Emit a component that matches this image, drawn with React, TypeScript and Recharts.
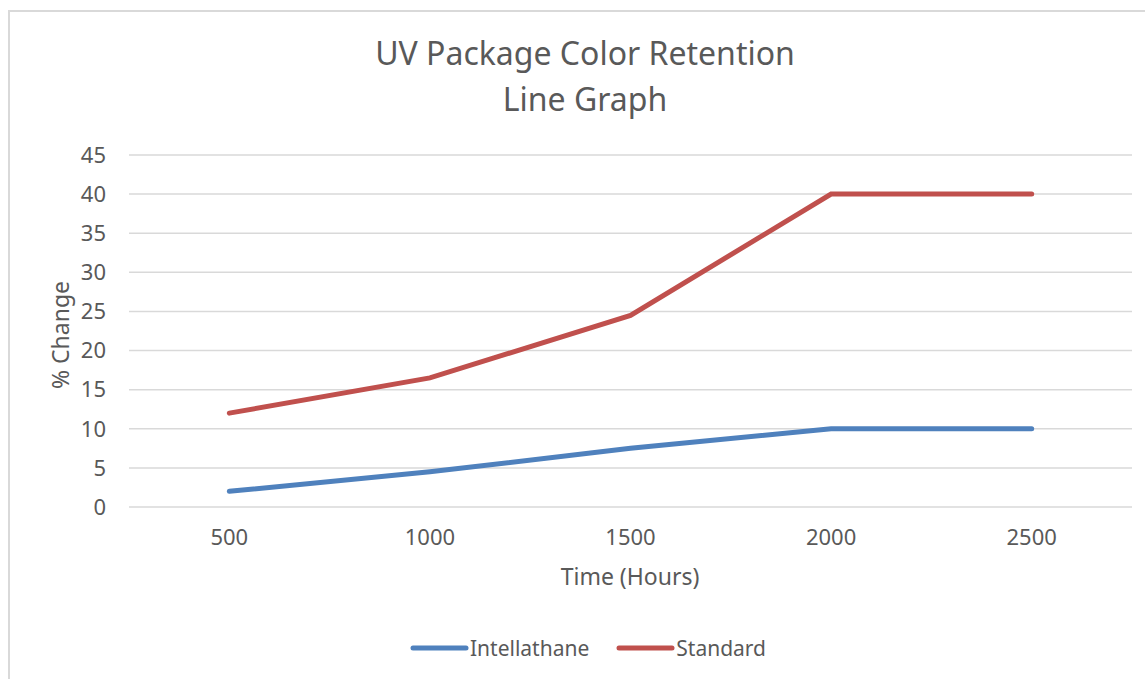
import React from "react";
import { LineChart, Line, XAxis, YAxis, CartesianGrid, Legend, Label } from "recharts";

const hours = ["500", "1000", "1500", "2000", "2500"];
const intellathane = [2, 4.5, 7.5, 10, 10];
const standard = [12, 16.5, 24.5, 40, 40];
const yTicks = [0, 5, 10, 15, 20, 25, 30, 35, 40, 45];

const seriesColors = { intellathane: "#4f81bd", standard: "#c0504d" };
const textColor = "#595959";
const font = "'Noto Sans', sans-serif";

const data = hours.map((h, i) => ({
  hour: h,
  Intellathane: intellathane[i],
  Standard: standard[i],
}));

const LegendContent = () => (
  <div style={{ display: "flex", justifyContent: "center", gap: 27, fontFamily: font, fontSize: 21, color: textColor, paddingLeft: 44 }}>
    {[
      { name: "Intellathane", color: seriesColors.intellathane },
      { name: "Standard", color: seriesColors.standard },
    ].map((s) => (
      <div key={s.name} style={{ display: "flex", alignItems: "center" }}>
        <svg width={60} height={10}>
          <line x1={3} y1={5} x2={56} y2={5} stroke={s.color} strokeWidth={5} strokeLinecap="round" />
        </svg>
        <span>{s.name}</span>
      </div>
    ))}
  </div>
);

export default function App() {
  return (
    <div style={{ position: "fixed", left: 0, top: 0, width: 1145, height: 679, overflow: "hidden", background: "#fff" }}>
      <div
        style={{
          position: "absolute",
          left: 8,
          top: 10,
          width: 1160,
          height: 700,
          border: "2px solid #d9d9d9",
          boxSizing: "border-box",
        }}
      />
      <div
        style={{
          position: "absolute",
          left: 0,
          top: 30,
          width: 1170,
          textAlign: "center",
          fontFamily: font,
          fontSize: 32,
          lineHeight: "46px",
          color: textColor,
        }}
      >
        UV Package Color Retention
        <br />
        Line Graph
      </div>
      <div style={{ position: "absolute", left: 0, top: 0 }}>
        <LineChart
          width={1145}
          height={679}
          data={data}
          margin={{ top: 155, right: 13, left: 0, bottom: 72 }}
        >
          <CartesianGrid vertical={false} stroke="#d9d9d9" strokeWidth={1.5} />
          <XAxis
            dataKey="hour"
            scale="band"
            axisLine={false}
            tickLine={false}
            tickSize={0}
            tickMargin={22}
            height={60}
            tick={{ fill: textColor, fontFamily: font, fontSize: 22 }}
          >
            <Label
              content={() => (
                <text x={630} y={585} textAnchor="middle" fill={textColor} fontFamily={font} fontSize={23}>
                  Time (Hours)
                </text>
              )}
            />
          </XAxis>
          <YAxis
            width={129}
            domain={[0, 45]}
            ticks={yTicks}
            axisLine={false}
            tickLine={false}
            tickSize={0}
            tickMargin={23}
            tick={{ fill: textColor, fontFamily: font, fontSize: 22 }}
          >
            <Label
              content={() => (
                <text
                  x={69}
                  y={335}
                  textAnchor="middle"
                  transform="rotate(-90 69 335)"
                  fill={textColor}
                  fontFamily={font}
                  fontSize={23}
                >
                  % Change
                </text>
              )}
            />
          </YAxis>
          <Legend verticalAlign="bottom" height={40} wrapperStyle={{ bottom: 5 }} content={<LegendContent />} />
          <Line
            type="linear"
            dataKey="Intellathane"
            stroke={seriesColors.intellathane}
            strokeWidth={5}
            strokeLinecap="round"
            dot={false}
            isAnimationActive={false}
          />
          <Line
            type="linear"
            dataKey="Standard"
            stroke={seriesColors.standard}
            strokeWidth={5}
            strokeLinecap="round"
            dot={false}
            isAnimationActive={false}
          />
        </LineChart>
      </div>
    </div>
  );
}
